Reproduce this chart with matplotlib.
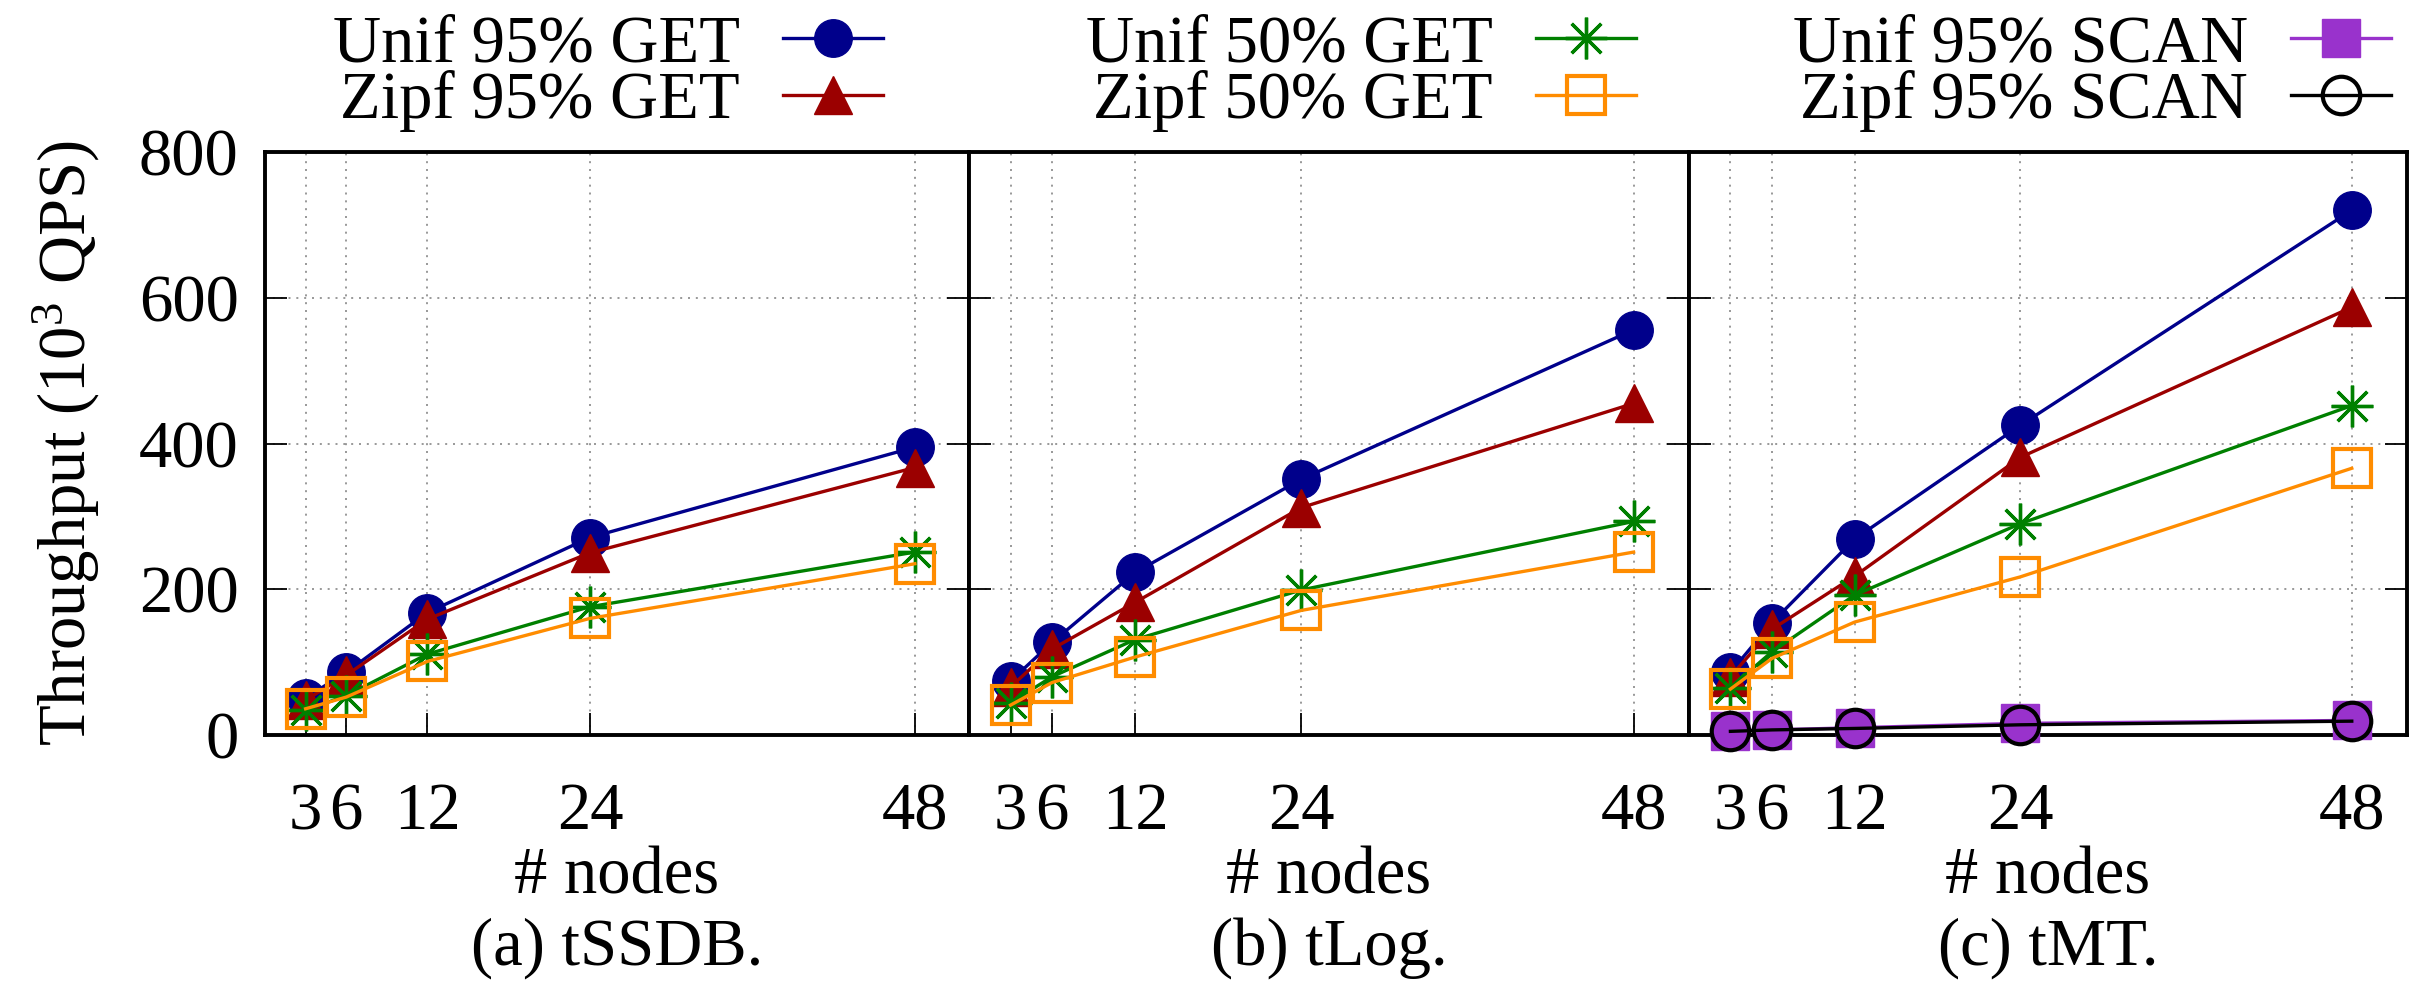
import matplotlib
matplotlib.use("Agg")
import matplotlib.pyplot as plt

plt.rcParams['font.family'] = ['Liberation Serif', 'DejaVu Serif']
plt.rcParams['mathtext.fontset'] = 'custom'
plt.rcParams['mathtext.rm'] = 'Liberation Serif'

nodes = [3, 6, 12, 24, 48]
tick_labels = ["3", "6", "12", "24", "48"]
panel_titles = ["(a) tSSDB.", "(b) tLog.", "(c) tMT."]

# throughput in 10^3 QPS, one list per panel
unif95_get = [[51, 86, 168, 271, 395],
              [74, 127, 223, 351, 556],
              [86, 154, 269, 425, 720]]
zipf95_get = [[48, 82, 159, 250, 367],
              [66, 118, 182, 312, 455],
              [80, 145, 218, 381, 587]]
unif50_get = [[34, 54, 111, 176, 251],
              [44, 80, 131, 199, 293],
              [65, 114, 192, 290, 452]]
zipf50_get = [[36, 52, 101, 160, 235],
              [41, 72, 107, 171, 251],
              [63, 105, 155, 217, 366]]
unif95_scan = [6, 7, 10, 16, 20]
zipf95_scan = [5, 7, 9, 14, 19]

FS = 48
fig = plt.figure(figsize=(24.18, 9.82), dpi=100)

W, H = 2418.0, 982.0
edges = [265, 969, 1689, 2407]
top_px, bot_px = 152, 735

styles = {
    'Unif 95% GET': dict(color='#00008B', marker='o', ms=27, mfc='#00008B', mec='#00008B'),
    'Zipf 95% GET': dict(color='#9B0000', marker='^', ms=28, mfc='#9B0000', mec='#9B0000'),
    'Unif 50% GET': dict(color='#008000', marker=(8, 2, 0), ms=30, mew=2.4),
    'Zipf 50% GET': dict(color='#FF8C00', marker='s', ms=27, mfc='none', mec='#FF8C00', mew=3.0),
    'Unif 95% SCAN': dict(color='#9932CC', marker='s', ms=27, mfc='#9932CC', mec='#9932CC'),
    'Zipf 95% SCAN': dict(color='black', marker='o', ms=27, mfc='none', mec='black', mew=3.0),
}

axes = []
for i in range(3):
    l = edges[i] / W
    w = (edges[i + 1] - edges[i]) / W
    b = 1 - bot_px / H
    h = (bot_px - top_px) / H
    ax = fig.add_axes([l, b, w, h])
    axes.append(ax)

    series = [('Unif 95% GET', unif95_get[i]), ('Zipf 95% GET', zipf95_get[i]),
              ('Unif 50% GET', unif50_get[i]), ('Zipf 50% GET', zipf50_get[i])]
    if i == 2:
        series += [('Unif 95% SCAN', unif95_scan), ('Zipf 95% SCAN', zipf95_scan)]
    for k, (name, vals) in enumerate(series):
        ax.plot(nodes, vals, lw=2.4, label=name, clip_on=False, zorder=3 + k, **styles[name])

    ax.set_xlim(0, 52)
    ax.set_ylim(0, 800)
    ax.set_xticks(nodes)
    ax.set_xticklabels(tick_labels)
    ax.set_yticks([0, 200, 400, 600, 800])
    ax.grid(True, color='#888888', linestyle=(0, (1.2, 3.5)), lw=1.2)
    ax.tick_params(axis='x', direction='in', length=16, width=1.3, labelsize=FS, pad=34)
    ax.tick_params(axis='y', direction='in', length=16, width=1.3, labelsize=FS, pad=19,
                   left=True, right=True)
    if i > 0:
        ax.tick_params(axis='y', labelleft=False)
    for s in ax.spines.values():
        s.set_linewidth(2.8)
    ax.text(0.5, -(877 - bot_px) / (bot_px - top_px), "# nodes", transform=ax.transAxes,
            ha='center', va='center', fontsize=FS)
    ax.text(0.5, -(948 - bot_px) / (bot_px - top_px), panel_titles[i], transform=ax.transAxes,
            ha='center', va='center', fontsize=FS)

fig.text(66 / W, 1 - (top_px + bot_px) / 2 / H, "Throughput ($\\mathregular{10^3}$ QPS)",
         rotation=90, ha='center', va='center', fontsize=FS)

handles = {ln.get_label(): ln for ln in axes[2].get_lines()}
legend_cols = [(['Unif 95% GET', 'Zipf 95% GET'], 883),
               (['Unif 50% GET', 'Zipf 50% GET'], 1636),
               (['Unif 95% SCAN', 'Zipf 95% SCAN'], 2391)]
for names, xr in legend_cols:
    fig.legend([handles[n] for n in names], names, loc='center right',
               bbox_to_anchor=(xr / W, 1 - 73 / H), frameon=False, markerfirst=False,
               fontsize=FS, handlelength=1.5, handletextpad=0.65, labelspacing=-0.08,
               borderpad=0, borderaxespad=0, numpoints=1)

fig.savefig("out.png", dpi=100)
